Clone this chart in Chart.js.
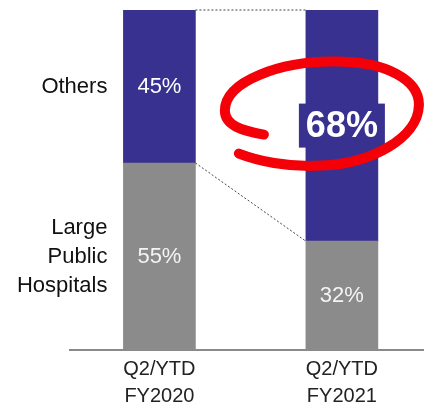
<!DOCTYPE html>
<html lang="en">
<head>
    <meta charset="UTF-8">
    <title>Share of revenue</title>
    <style>
        html, body {
            margin: 0;
            padding: 0;
            background-color: white;
            overflow: hidden;
        }
        .chart-box {
            width: 424px;
            height: 410px;
        }
    </style>
    <script src="https://cdn.jsdelivr.net/npm/chart.js@4.4.1/dist/chart.umd.min.js"></script>
    <script>
        // chart values
        const periods = [['Q2/YTD', 'FY2020'], ['Q2/YTD', 'FY2021']];
        const segmentNames = [['Large', 'Public', 'Hospitals'], ['Others']];
        const largePublicHospitals = [55, 32];
        const others = [45, 68];

        const BLUE = '#38318f';
        const GREY = '#8b8b8b';
        const FONT = "'Liberation Sans', Arial, sans-serif";

        // left labels, value labels, connectors and the red highlight
        const annotations = {
            id: 'annotations',
            afterDatasetsDraw(chart) {
                const ctx = chart.ctx;
                const grey = chart.getDatasetMeta(0).data;
                const blue = chart.getDatasetMeta(1).data;

                // dotted connectors between the two columns
                ctx.save();
                ctx.strokeStyle = '#444';
                ctx.lineWidth = 1;
                ctx.setLineDash([2, 2]);
                ctx.beginPath();
                ctx.moveTo(blue[0].x + blue[0].width / 2, blue[0].y);
                ctx.lineTo(blue[1].x - blue[1].width / 2, blue[1].y);
                ctx.moveTo(grey[0].x + grey[0].width / 2, grey[0].y);
                ctx.lineTo(grey[1].x - grey[1].width / 2, grey[1].y);
                ctx.stroke();
                ctx.restore();

                ctx.save();
                ctx.textBaseline = 'middle';

                // segment names left of the first column
                ctx.fillStyle = '#111';
                ctx.textAlign = 'right';
                ctx.font = '22px ' + FONT;
                const nameX = grey[0].x - grey[0].width / 2 - 16;
                [grey, blue].forEach((els, i) => {
                    const midY = (els[0].y + els[0].base) / 2;
                    const lines = segmentNames[i];
                    lines.forEach((t, k) => {
                        ctx.fillText(t, nameX, midY + (k - (lines.length - 1) / 2) * 29);
                    });
                });

                // values inside the bars
                ctx.textAlign = 'center';
                ctx.fillStyle = '#f4f4f4';
                ctx.fillText(largePublicHospitals[0] + '%', grey[0].x, (grey[0].y + grey[0].base) / 2);
                ctx.fillText(largePublicHospitals[1] + '%', grey[1].x, (grey[1].y + grey[1].base) / 2);
                ctx.fillStyle = '#fff';
                ctx.fillText(others[0] + '%', blue[0].x, (blue[0].y + blue[0].base) / 2);

                // highlighted value with a box
                const cx = blue[1].x;
                const cy = (blue[1].y + blue[1].base) / 2;
                ctx.fillStyle = BLUE;
                ctx.fillRect(cx - 43, cy - 22, 86, 44);
                ctx.fillStyle = '#fff';
                ctx.font = 'bold 36px ' + FONT;
                ctx.fillText(others[1] + '%', cx, cy + 1);
                ctx.restore();

                // hand drawn red loop round it
                ctx.save();
                ctx.translate(cx, cy);
                ctx.strokeStyle = '#f40008';
                ctx.lineWidth = 10;
                ctx.lineCap = 'round';
                ctx.lineJoin = 'round';
                ctx.beginPath();
                ctx.moveTo(-78, 9);
                ctx.bezierCurveTo(-100, 5, -117, 0, -117, -15);
                ctx.bezierCurveTo(-117, -45, -60, -64, -10, -64);
                ctx.bezierCurveTo(45, -65, 78, -45, 77, -20);
                ctx.bezierCurveTo(76, 12, 30, 38, -20, 40);
                ctx.bezierCurveTo(-55, 42, -85, 35, -103, 28);
                ctx.stroke();
                ctx.restore();
            }
        };

        window.onload = function() {
            const ctx = document.getElementById('myChart').getContext('2d');
            new Chart(ctx, {
                type: 'bar',
                data: {
                    datasets: [{
                        label: 'Large Public Hospitals',
                        backgroundColor: GREY,
                        data: largePublicHospitals.map((v, i) => ({ x: i, y: v }))
                    }, {
                        label: 'Others',
                        backgroundColor: BLUE,
                        data: others.map((v, i) => ({ x: i, y: v }))
                    }]
                },
                options: {
                    responsive: true,
                    maintainAspectRatio: false,
                    animation: false,
                    barThickness: 72,
                    layout: {
                        padding: { left: 70, top: 10, right: 0, bottom: -6 }
                    },
                    scales: {
                        x: {
                            type: 'linear',
                            stacked: true,
                            offset: false,
                            min: -0.49,
                            max: 1.45,
                            afterBuildTicks: (scale) => {
                                scale.ticks = periods.map((p, i) => ({ value: i }));
                            },
                            grid: { display: false, drawTicks: false },
                            border: { display: true, color: '#8a8a8a', width: 2 },
                            ticks: {
                                autoSkip: false,
                                maxRotation: 0,
                                padding: 6,
                                color: '#222',
                                font: { family: FONT, size: 20, lineHeight: 1.35 },
                                callback: (v) => periods[v]
                            }
                        },
                        y: {
                            stacked: true,
                            display: false,
                            min: 0,
                            max: 100
                        }
                    },
                    plugins: {
                        legend: { display: false },
                        tooltip: { enabled: false }
                    }
                },
                plugins: [annotations]
            });
        };
    </script>
</head>
<body>
    <div class="chart-box">
        <canvas id="myChart"></canvas>
    </div>
</body>
</html>
